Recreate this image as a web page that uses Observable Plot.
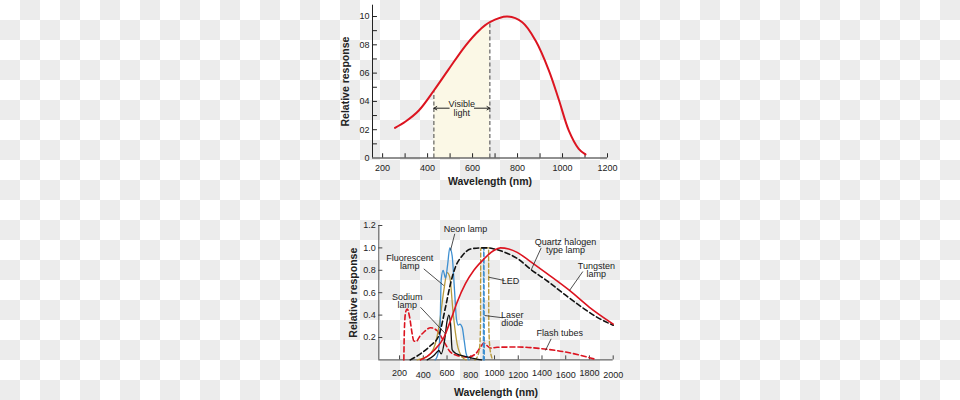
<!DOCTYPE html>
<html><head><meta charset="utf-8">
<script src="https://cdn.jsdelivr.net/npm/d3@7"></script>
<script src="https://cdn.jsdelivr.net/npm/@observablehq/plot@0.6"></script>
<style>
html,body{margin:0;padding:0;}
body{width:960px;height:400px;position:relative;overflow:hidden;
  background:repeating-conic-gradient(#ececec 0% 25%, #ffffff 0% 50%) 0 0/40px 40px;}
#top,#bottom{position:absolute;left:0;width:960px;height:200px;}
#top{top:0}#bottom{top:200px}
</style></head><body>
<div id="top"></div><div id="bottom"></div>
<script>
// ---------- Top chart data ----------
const topWave = [255, 302, 361, 428, 495, 569, 628, 677, 754, 821, 880, 939, 984, 1028, 1072, 1102];
const topResp = [0.213, 0.258, 0.336, 0.477, 0.63, 0.795, 0.90, 0.96, 1.0, 0.96, 0.83, 0.62, 0.41, 0.194, 0.065, 0.025];
const visibleRange = [428, 677];
const topXTicks = [200, 400, 600, 800, 1000, 1200];
const topXTickLabels = ["200", "400", "600", "800", "1000", "1200"];
const topXMinor = [200, 300, 400, 500, 600, 700, 800, 900, 1000, 1100, 1200];
const topYTicks = [0, 0.2, 0.4, 0.6, 0.8, 1.0];
const topYTickLabels = ["0", "02", "04", "06", "08", "10"];
const topYMinor = [0.1, 0.2, 0.3, 0.4, 0.5, 0.6, 0.7, 0.8, 0.9, 1.0];

// ---------- Bottom chart data ----------
const tungstenWave = [376, 430, 489, 573, 629, 685, 755, 826, 910, 994, 1050, 1120, 1191, 1300, 1443, 1632, 1800, 2000];
const tungstenResp = [0, 0.03, 0.084, 0.20, 0.35, 0.515, 0.68, 0.80, 0.90, 0.977, 1.0, 0.99, 0.96, 0.88, 0.77, 0.62, 0.47, 0.32];
const quartzWave = [290, 376, 461, 531, 587, 629, 671, 728, 798, 882, 950, 1000, 1100, 1200, 1303, 1450, 1584, 1750, 1865, 2000];
const quartzResp = [0, 0.054, 0.128, 0.218, 0.47, 0.68, 0.83, 0.93, 0.99, 1.0, 1.0, 0.99, 0.955, 0.90, 0.81, 0.70, 0.59, 0.46, 0.38, 0.31];
const flashWave = [236, 240, 250, 264, 285, 305, 320, 340, 370, 404, 461, 517, 570, 629, 700, 770, 840, 880, 910, 940, 966, 1022, 1200, 1400, 1600, 1800, 1850];
const flashResp = [0, 0.25, 0.42, 0.455, 0.38, 0.24, 0.17, 0.165, 0.21, 0.247, 0.287, 0.26, 0.17, 0.07, 0.035, 0.024, 0.054, 0.11, 0.15, 0.125, 0.105, 0.113, 0.115, 0.10, 0.07, 0.02, 0.005];
const neonWave = [500, 520, 539, 551, 567, 587, 605, 623, 643, 663, 680, 695, 708, 728, 745, 760, 784];
const neonResp = [0, 0.04, 0.2, 0.72, 0.80, 0.73, 0.85, 1.0, 0.93, 0.62, 0.36, 0.31, 0.32, 0.29, 0.17, 0.06, 0];
const fluorWave = [349, 400, 461, 500, 531, 573, 601, 623, 652, 685, 728, 760];
const fluorResp = [0, 0.015, 0.054, 0.14, 0.29, 0.62, 0.78, 0.74, 0.41, 0.144, 0.024, 0];
const sodiumWave = [433, 489, 520, 531, 551, 579, 601, 615, 629, 643, 671, 770, 840, 890];
const sodiumResp = [0, 0.04, 0.075, 0.084, 0.054, 0.173, 0.35, 0.40, 0.33, 0.09, 0.06, 0.027, 0.01, 0];
const ledWave = [835, 860, 875, 882, 884, 950, 952, 960, 972, 985];
const ledResp = [0, 0.04, 0.12, 0.3, 1.0, 1.0, 0.3, 0.12, 0.04, 0];
const laserWave = [906, 909, 911, 914];
const laserResp = [0, 1.0, 1.0, 0];
const botXTicks = [200, 400, 600, 800, 1000, 1200, 1400, 1600, 1800, 2000];
const botXTickLabels = ["200", "400", "600", "800", "1000", "1200", "1400", "1600", "1800", "2000"];
const botYTicks = [0.2, 0.4, 0.6, 0.8, 1.0, 1.2];
const botYTickLabels = ["0.2", "0.4", "0.6", "0.8", "1.0", "1.2"];

// annotation labels and leader lines (wavelength, response)
const annoText = ["Neon lamp", "Fluorescent\nlamp", "Sodium\nlamp", "LED", "Laser\ndiode", "Quartz halogen\ntype lamp", "Tungsten\nlamp", "Flash tubes"];
const annoWave = [755, 285, 264, 1135, 1149, 1598, 1858, 1550];
const annoResp = [1.164, 0.87, 0.526, 0.703, 0.362, 1.011, 0.798, 0.233];
const leaderFrom = [[665, 1.126], [404, 0.813], [376, 0.47], [1084, 0.709], [1070, 0.376], [1393, 1.0], [1744, 0.789], [1477, 0.188]];
const leaderTo = [[629, 0.977], [573, 0.664], [587, 0.233], [952, 0.738], [918, 0.396], [1309, 0.804], [1632, 0.62], [1429, 0.084]];

// ---------- helpers ----------
const zip = (xs, ys) => xs.map((x, i) => ({x, y: ys[i]}));
const font = "'Liberation Sans', Arial, Helvetica, sans-serif";
const ink = "#222";
const RED = "#dc1420", BLUE = "#3d8fd1", GOLD = "#b89a3c", BLACK = "#111";

// ---------- Top plot ----------
const topData = zip(topWave, topResp);
const bandData = topData.filter(d => d.x >= visibleRange[0] && d.x <= visibleRange[1]);
const topX0 = 155;
const topPlot = Plot.plot({
  width: 960, height: 200,
  marginLeft: 372, marginRight: 353, marginTop: 4.7, marginBottom: 42.5,
  x: {domain: [topX0, 1200], axis: null},
  y: {domain: [0, 1.08], axis: null},
  style: {background: "transparent", fontFamily: font, fontSize: "9px", overflow: "visible"},
  marks: [
    Plot.areaY(bandData, {x: "x", y: "y", curve: "catmull-rom", fill: "#fbf8e6"}),
    Plot.ruleX(visibleRange, {x: d => d, y1: 0, y2: d => topResp[topWave.indexOf(d)], stroke: "#444", strokeWidth: 1, strokeDasharray: "4,2.5"}),
    Plot.ruleY([0], {stroke: ink, strokeWidth: 1}),
    Plot.ruleX([topX0], {y1: 0, y2: 1.08, stroke: ink, strokeWidth: 1}),
    Plot.ruleX(topXMinor, {x: d => d, y1: 0, y2: 0.03, stroke: ink, strokeWidth: 1}),
    Plot.ruleY(topYMinor, {y: d => d, x1: topX0, x2: topX0 + 22, stroke: ink, strokeWidth: 1}),
    Plot.text(topXTicks, {x: d => d, y: () => 0, dy: 10.5, text: (d, i) => topXTickLabels[i], fill: ink, fontSize: 9}),
    Plot.text(topYTicks, {x: () => topX0, y: d => d, dx: -3, textAnchor: "end", text: (d, i) => topYTickLabels[i], fill: ink, fontSize: 9}),
    Plot.line(topData, {x: "x", y: "y", curve: "catmull-rom", stroke: RED, strokeWidth: 2}),
    Plot.arrow([{x1: 496, x2: visibleRange[0]}, {x1: 608, x2: visibleRange[1]}], {x1: "x1", x2: "x2", y1: () => 0.352, y2: () => 0.352, bend: 0, headLength: 5, stroke: ink, strokeWidth: 1}),
    Plot.text(["Visible\nlight"], {x: () => 552, y: () => 0.347, text: d => d, fill: ink, fontSize: 9, lineHeight: 0.95}),
    Plot.text(["Wavelength (nm)"], {frameAnchor: "bottom", dy: 23.5, lineAnchor: "middle", textAnchor: "middle", text: d => d, fontWeight: "bold", fontSize: 10.5, fill: ink}),
    Plot.text(["Relative response"], {frameAnchor: "left", dx: -27, rotate: -90, textAnchor: "middle", lineAnchor: "middle", text: d => d, fontWeight: "bold", fontSize: 10.5, fill: ink})
  ]
});
document.getElementById("top").append(topPlot);

// ---------- Bottom plot ----------
const botX0 = 25;
const series = [
  {data: zip(flashWave, flashResp), stroke: RED, dash: "5,3", w: 1.6, curve: "monotone-x"},
  {data: zip(ledWave, ledResp), stroke: GOLD, dash: "4,2.5", w: 1.4, curve: "monotone-x"},
  {data: zip(laserWave, laserResp), stroke: BLUE, dash: "4,2.5", w: 1.4, curve: "linear"},
  {data: zip(fluorWave, fluorResp), stroke: GOLD, dash: null, w: 1.3, curve: "monotone-x"},
  {data: zip(neonWave, neonResp), stroke: BLUE, dash: null, w: 1.3, curve: "monotone-x"},
  {data: zip(sodiumWave, sodiumResp), stroke: BLACK, dash: null, w: 1.3, curve: "monotone-x"},
  {data: zip(quartzWave, quartzResp), stroke: BLACK, dash: "5,3", w: 1.6, curve: "monotone-x"},
  {data: zip(tungstenWave, tungstenResp), stroke: RED, dash: null, w: 1.6, curve: "monotone-x"}
];
const annos = annoText.map((t, i) => ({t, x: annoWave[i], y: annoResp[i]}));
const leaders = leaderFrom.map((f, i) => ({x1: f[0], y1: f[1], x2: leaderTo[i][0], y2: leaderTo[i][1]}));

const botPlot = Plot.plot({
  width: 960, height: 200,
  marginLeft: 378.3, marginRight: 347.3, marginTop: 25, marginBottom: 40.6,
  x: {domain: [botX0, 2000], axis: null},
  y: {domain: [0, 1.2], axis: null},
  style: {background: "transparent", fontFamily: font, fontSize: "9px", overflow: "visible"},
  marks: [
    Plot.ruleY([0], {stroke: "#444", strokeWidth: 1}),
    Plot.ruleX([botX0], {y1: 0, y2: 1.2, stroke: "#555", strokeWidth: 1}),
    Plot.ruleX(botXTicks, {x: d => d, y1: 0, y2: 0.036, stroke: "#444", strokeWidth: 1}),
    Plot.ruleY(botYTicks, {y: d => d, x1: botX0, x2: botX0 + 34, stroke: "#444", strokeWidth: 1}),
    Plot.text(botXTicks.filter((d, i) => i % 2 === 0), {x: d => d, y: () => 0, dy: 13.4, text: d => botXTickLabels[botXTicks.indexOf(d)], fill: ink, fontSize: 9}),
    Plot.text(botXTicks.filter((d, i) => i % 2 === 1), {x: d => d, y: () => 0, dy: 15.6, text: d => botXTickLabels[botXTicks.indexOf(d)], fill: ink, fontSize: 9}),
    Plot.text(botYTicks, {x: () => botX0, y: d => d, dx: -3, textAnchor: "end", text: (d, i) => botYTickLabels[i], fill: ink, fontSize: 9}),
    ...series.map(s => Plot.line(s.data, {x: "x", y: "y", curve: s.curve, stroke: s.stroke, strokeWidth: s.w, strokeDasharray: s.dash})),
    Plot.link(leaders, {x1: "x1", y1: "y1", x2: "x2", y2: "y2", stroke: ink, strokeWidth: 0.8}),
    Plot.text(annos, {x: "x", y: "y", text: "t", fill: ink, fontSize: 9, lineHeight: 0.9}),
    Plot.text(["Wavelength (nm)"], {frameAnchor: "bottom", dy: 32.3, lineAnchor: "middle", textAnchor: "middle", text: d => d, fontWeight: "bold", fontSize: 10.5, fill: ink}),
    Plot.text(["Relative response"], {frameAnchor: "left", dx: -25.6, rotate: -90, textAnchor: "middle", lineAnchor: "middle", text: d => d, fontWeight: "bold", fontSize: 10.5, fill: ink})
  ]
});
document.getElementById("bottom").append(botPlot);
</script></body></html>
